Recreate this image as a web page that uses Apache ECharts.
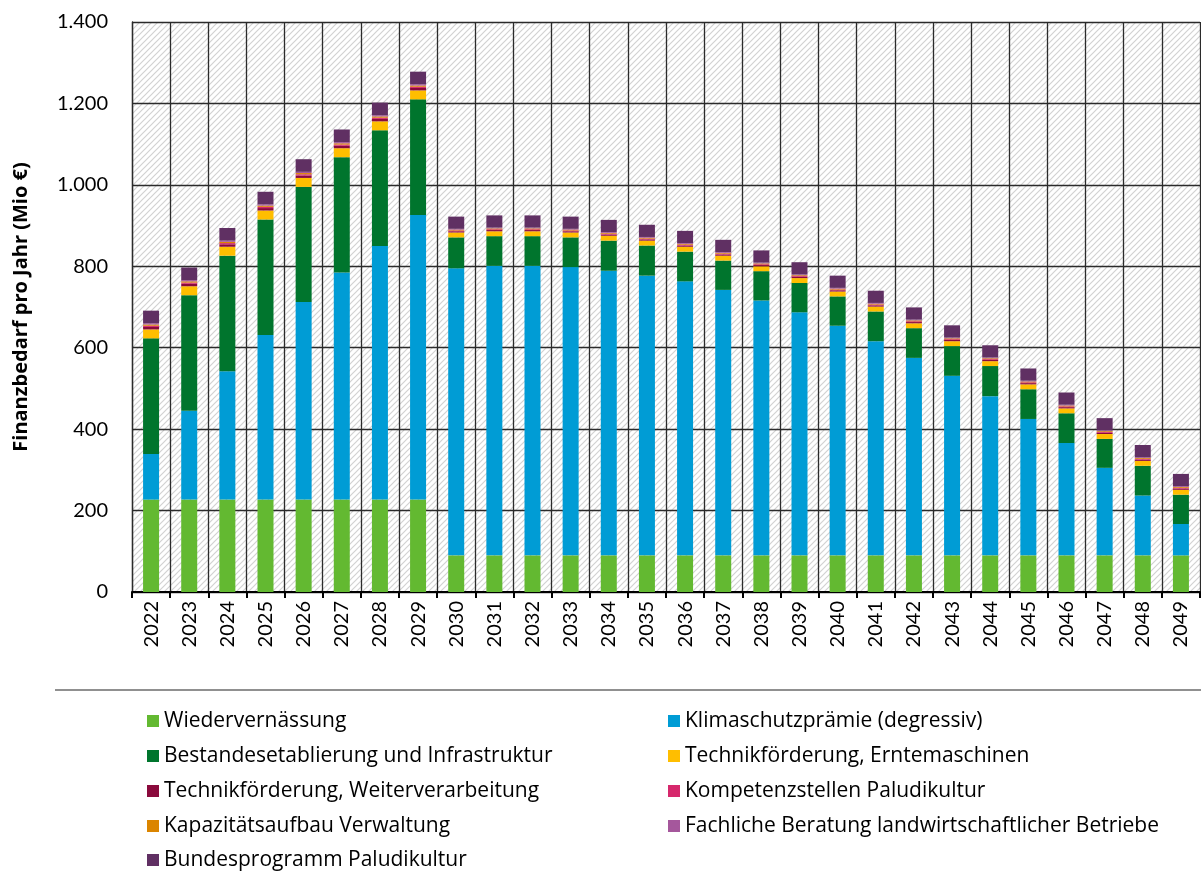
<!DOCTYPE html>
<html>
<head>
<meta charset="utf-8">
<script src="https://cdn.jsdelivr.net/npm/echarts@6/dist/echarts.min.js"></script>
<style>
  html, body { margin: 0; padding: 0; background: #fff; }
  #chart { width: 1201px; height: 871px; }
</style>
</head>
<body>
<div id="chart"></div>
<script>
const years = ['2022', '2023', '2024', '2025', '2026', '2027', '2028', '2029', '2030', '2031',
  '2032', '2033', '2034', '2035', '2036', '2037', '2038', '2039', '2040', '2041',
  '2042', '2043', '2044', '2045', '2046', '2047', '2048', '2049']

const wiedervernaessung = [227, 227, 227, 227, 227, 227, 227, 227, 90, 90,
  90, 90, 90, 90, 90, 90, 90, 90, 90, 90,
  90, 90, 90, 90, 90, 90, 90, 90]
const klimaschutzpraemie = [112, 218, 315, 404, 485, 558, 623, 699, 705, 711,
  711, 708, 699, 687, 673, 652, 626, 597, 564, 526,
  485, 441, 391, 335, 276, 215, 147, 77]
const bestandesetablierung = [284, 284, 284, 284, 283, 283, 284, 284, 76, 73,
  73, 73, 74, 74, 73, 72, 72, 72, 72, 73,
  73, 73, 74, 73, 73, 71, 73, 72]
const technikErnte = [22, 22, 22, 22, 22, 22, 22, 22, 12, 12,
  12, 12, 12, 12, 12, 12, 12, 12, 12, 12,
  12, 12, 12, 12, 12, 12, 12, 12]
const technikWeiter = [6, 6, 6, 6, 6, 6, 6, 6, 3, 3,
  3, 3, 3, 3, 3, 3, 3, 3, 3, 3,
  3, 3, 3, 3, 3, 3, 3, 3]
const kompetenzstellen = [3, 3, 3, 3, 3, 3, 3, 3, 2, 2,
  2, 2, 2, 2, 2, 2, 2, 2, 2, 2,
  2, 2, 2, 2, 2, 2, 2, 2]
const kapazitaet = [3, 3, 3, 3, 3, 3, 3, 3, 2, 2,
  2, 2, 2, 2, 2, 2, 2, 2, 2, 2,
  2, 2, 2, 2, 2, 2, 2, 2]
const beratung = [3, 3, 3, 3, 3, 3, 3, 3, 2, 2,
  2, 2, 2, 2, 2, 2, 2, 2, 2, 2,
  2, 2, 2, 2, 2, 2, 2, 2]
const bundesprogramm = [31, 31, 31, 31, 31, 31, 31, 31, 30, 30,
  30, 30, 30, 30, 30, 30, 30, 30, 30, 30,
  30, 30, 30, 30, 30, 30, 30, 30]

const yTicks = { min: 0, max: 1400, interval: 200 }

const seriesDefs = [
  { name: 'Wiedervernässung', data: wiedervernaessung, color: '#63b931' },
  { name: 'Klimaschutzprämie (degressiv)', data: klimaschutzpraemie, color: '#009cd5' },
  { name: 'Bestandesetablierung und Infrastruktur', data: bestandesetablierung, color: '#00752d' },
  { name: 'Technikförderung, Erntemaschinen', data: technikErnte, color: '#ffbe00' },
  { name: 'Technikförderung, Weiterverarbeitung', data: technikWeiter, color: '#8a0a3c' },
  { name: 'Kompetenzstellen Paludikultur', data: kompetenzstellen, color: '#d6286c' },
  { name: 'Kapazitätsaufbau Verwaltung', data: kapazitaet, color: '#db8500' },
  { name: 'Fachliche Beratung landwirtschaftlicher Betriebe', data: beratung, color: '#a5579c' },
  { name: 'Bundesprogramm Paludikultur', data: bundesprogramm, color: '#603063' }
]

const fontFamily = 'Lato, "Open Sans", sans-serif'
const legendFont = '"Open Sans", Lato, sans-serif'

// diagonal hatch for the plot background
function hatchPattern() {
  const c = document.createElement('canvas')
  c.width = 6
  c.height = 6
  const ctx = c.getContext('2d')
  ctx.fillStyle = '#ffffff'
  ctx.fillRect(0, 0, 6, 6)
  ctx.strokeStyle = '#d2d2d2'
  ctx.lineWidth = 1.2
  ctx.beginPath()
  ctx.moveTo(-1, 7); ctx.lineTo(7, -1)
  ctx.moveTo(-1, 1); ctx.lineTo(1, -1)
  ctx.moveTo(5, 7); ctx.lineTo(7, 5)
  ctx.stroke()
  return { image: c, repeat: 'repeat' }
}

function formatDe(v) {
  return String(v).replace(/\B(?=(\d{3})+(?!\d))/g, '.')
}

// two legend columns, one legend per entry so rows sit exactly
const legendRows = [721, 756, 791, 826, 860]
const legendLeft = [0, 2, 4, 6, 8]
const legendRight = [1, 3, 5, 7]

function legendItem(idx, left, rowY) {
  return {
    orient: 'horizontal',
    left: left,
    top: rowY - 12,
    padding: 0,
    itemWidth: 12,
    itemHeight: 12,
    icon: 'rect',
    selectedMode: false,
    data: [seriesDefs[idx].name],
    textStyle: { fontFamily: legendFont, fontSize: 21, color: '#000', lineHeight: 24 }
  }
}

const legends = legendLeft.map((idx, i) => legendItem(idx, 147, legendRows[i]))
  .concat(legendRight.map((idx, i) => legendItem(idx, 668, legendRows[i])))

const chart = echarts.init(document.getElementById('chart'))
chart.setOption({
  animation: false,
  backgroundColor: '#fff',
  grid: {
    left: 132,
    right: 1,
    top: 22,
    bottom: 279,
    show: true,
    borderWidth: 0,
    backgroundColor: hatchPattern()
  },
  legend: legends,
  graphic: [{
    type: 'line',
    shape: { x1: 55, y1: 690, x2: 1201, y2: 690 },
    style: { stroke: '#6b6b6b', lineWidth: 1.5 }
  }],
  xAxis: {
    type: 'category',
    data: years,
    axisLine: { lineStyle: { color: '#000', width: 2 } },
    axisTick: { show: true, interval: 0, length: 6, lineStyle: { color: '#000', width: 2 } },
    axisLabel: { interval: 0, rotate: 90, margin: 9, fontFamily: fontFamily, fontSize: 20, color: '#000' },
    splitLine: { show: true, interval: 0, lineStyle: { color: '#2b2b2b', width: 1.3 } }
  },
  yAxis: {
    type: 'value',
    min: yTicks.min,
    max: yTicks.max,
    interval: yTicks.interval,
    name: 'Finanzbedarf pro Jahr (Mio €)',
    nameLocation: 'middle',
    nameGap: 101,
    nameTextStyle: { fontFamily: '"Open Sans", Lato, sans-serif', fontSize: 20, fontWeight: 'bold', color: '#000' },
    axisLine: { show: true, lineStyle: { color: '#2b2b2b', width: 1.3 } },
    axisTick: { show: false },
    axisLabel: { margin: 24, fontFamily: fontFamily, fontSize: 20, color: '#000', formatter: formatDe },
    splitLine: { show: true, lineStyle: { color: '#2b2b2b', width: 1.3 } }
  },
  series: seriesDefs.map((s) => ({
    name: s.name,
    type: 'bar',
    stack: 'total',
    barWidth: 16,
    data: s.data,
    itemStyle: { color: s.color }
  }))
})
</script>
</body>
</html>
